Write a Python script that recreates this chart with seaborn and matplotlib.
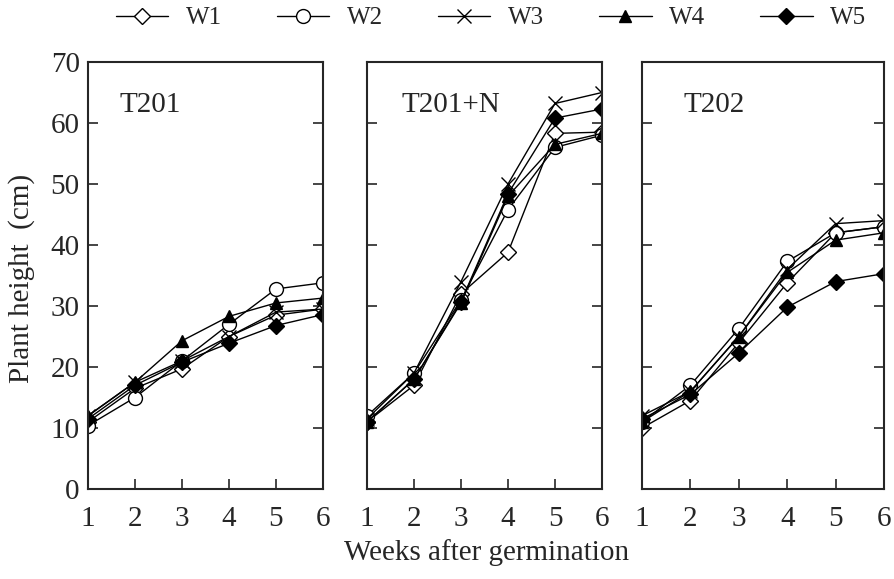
import matplotlib
matplotlib.use('Agg')

import matplotlib.pyplot as plt
import seaborn as sns
import pandas as pd

# ── Data ────────────────────────────────────────────────────────────────────
weeks = [1, 2, 3, 4, 5, 6]
series = ['W1', 'W2', 'W3', 'W4', 'W5']
panels = ['T201', 'T201+N', 'T202']

t201 = {
    'W1': [11.0, 16.5, 19.7, 25.0, 28.5, 29.5],
    'W2': [10.4, 15.0, 21.0, 27.0, 32.8, 33.8],
    'W3': [12.0, 17.5, 21.0, 25.0, 29.0, 29.5],
    'W4': [12.0, 17.5, 24.3, 28.3, 30.5, 31.3],
    'W5': [11.5, 17.0, 20.8, 23.9, 26.8, 28.6],
}
t201n = {
    'W1': [11.0, 17.0, 32.0, 38.8, 58.3, 58.5],
    'W2': [12.0, 19.0, 31.0, 45.8, 56.0, 58.0],
    'W3': [11.5, 19.0, 34.0, 50.0, 63.2, 65.0],
    'W4': [11.0, 18.0, 30.5, 48.0, 56.5, 58.3],
    'W5': [11.0, 18.0, 30.7, 48.4, 60.8, 62.3],
}
t202 = {
    'W1': [10.0, 14.5, 24.0, 33.8, 42.0, 43.0],
    'W2': [11.0, 17.0, 26.3, 37.3, 42.0, 43.0],
    'W3': [12.0, 16.0, 25.0, 36.0, 43.5, 44.0],
    'W4': [11.0, 16.0, 25.0, 35.5, 40.8, 42.0],
    'W5': [11.5, 15.5, 22.3, 29.8, 34.0, 35.3],
}
panel_data = [t201, t201n, t202]

rows = []
for pname, pdict in zip(panels, panel_data):
    for s in series:
        for w, v in zip(weeks, pdict[s]):
            rows.append({'panel': pname, 'series': s, 'week': w, 'height': v})
df = pd.DataFrame(rows)

# marker styles per series
markers = {'W1': 'D', 'W2': 'o', 'W3': 'x', 'W4': '^', 'W5': 'D'}
faces = {'W1': 'white', 'W2': 'white', 'W3': 'black', 'W4': 'black', 'W5': 'black'}
msizes = {'W1': 8, 'W2': 10, 'W3': 10, 'W4': 9, 'W5': 8}

sns.set_style('ticks')
plt.rcParams['font.family'] = ['Liberation Serif', 'DejaVu Serif']

W, H = 895, 579
fig = plt.figure(figsize=(W / 100, H / 100), dpi=100)

# panel frames in pixels (left, right)
frames = [(88, 323), (367, 602), (642, 884)]
top, bottom = 62, 489
label_x = [0.135, 0.148, 0.17]

axes = []
for i, (pname, (l, r)) in enumerate(zip(panels, frames)):
    ax = fig.add_axes([l / W, (H - bottom) / H, (r - l) / W, (bottom - top) / H])
    axes.append(ax)
    sub = df[df['panel'] == pname]
    for s in series:
        d = sub[sub['series'] == s]
        sns.lineplot(
            data=d, x='week', y='height', ax=ax,
            color='black', lw=1.0,
            marker=markers[s], markersize=msizes[s],
            markerfacecolor=faces[s], markeredgecolor='black',
            markeredgewidth=1.0, legend=False
        )
    ax.set_xlim(1, 6)
    ax.set_ylim(0, 70)
    ax.set_xticks(weeks)
    ax.set_yticks(range(0, 71, 10))
    ax.tick_params(direction='in', length=7, width=1.2, labelsize=21,
                   left=True, right=True, top=False)
    ax.tick_params(axis='x', pad=12)
    ax.tick_params(axis='y', pad=6)
    if i > 0:
        ax.set_yticklabels([])
    ax.set_xlabel('')
    ax.set_ylabel('')
    for sp in ax.spines.values():
        sp.set_linewidth(1.5)
        sp.set_visible(True)
    ax.text(label_x[i], 0.9, pname, transform=ax.transAxes, fontsize=21,
            va='center', ha='left')

fig.text(22 / W, 1 - 278 / H, 'Plant height  (cm)', fontsize=21,
         rotation=90, ha='center', va='center')
fig.text(487 / W, 1 - 553 / H, 'Weeks after germination', fontsize=21,
         ha='center', va='center')

# legend on top
handles = []
for s in series:
    h, = axes[0].plot([], [], color='black', lw=1.0, marker=markers[s],
                      markersize=msizes[s], markerfacecolor=faces[s],
                      markeredgecolor='black', label=s)
    handles.append(h)
fig.legend(handles=handles, labels=series, ncol=5, frameon=False,
           loc='center', bbox_to_anchor=(491 / W, 1 - 18 / H),
           fontsize=18, handlelength=2.1, columnspacing=2.2,
           handletextpad=0.7, borderpad=0, borderaxespad=0)

plt.savefig('out.png', dpi=100)
plt.close()
